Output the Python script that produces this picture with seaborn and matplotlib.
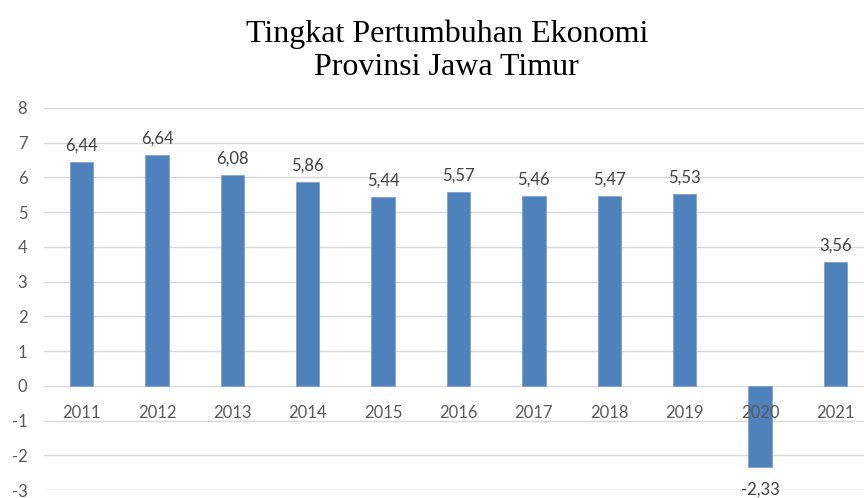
import matplotlib.pyplot as plt
import seaborn as sns

years = ["2011", "2012", "2013", "2014", "2015", "2016", "2017", "2018", "2019", "2020", "2021"]
growth = [6.44, 6.64, 6.08, 5.86, 5.44, 5.57, 5.46, 5.47, 5.53, -2.33, 3.56]
y_ticks = list(range(-3, 9))

sns.set_style("white")
plt.rcParams["font.family"] = ["Lato", "DejaVu Sans"]

fig = plt.figure(figsize=(8.64, 4.98), dpi=100)
ax = fig.add_axes([44 / 864, 8 / 498, 829 / 864, 382 / 498])

sns.barplot(x=years, y=growth, color="#4F81BD", saturation=1, width=0.31,
            edgecolor="#7FA3D0", linewidth=0.6, ax=ax, zorder=3)

ax.set_xlim(-0.5, 10.5)
ax.set_ylim(-3, 8)
ax.set_yticks(y_ticks)
ax.set_yticklabels([str(t) for t in y_ticks])
ax.yaxis.grid(True, color="#D9D9D9", linewidth=1)
ax.set_axisbelow(True)
# year labels are drawn on top of the negative bar
ax.xaxis.set_zorder(4)

for side in ["top", "right", "left"]:
    ax.spines[side].set_visible(False)
# category labels sit just below the zero line, like Excel
ax.spines["bottom"].set_position(("data", 0))
ax.spines["bottom"].set_visible(False)

ax.tick_params(axis="x", length=0, pad=14, labelsize=12, labelcolor="#595959")
ax.tick_params(axis="y", length=0, pad=12, labelsize=12, labelcolor="#595959")
ax.set_xlabel("")
ax.set_ylabel("")

labels = [f"{v:.2f}".replace(".", ",") for v in growth]
pos_labels = [s if v >= 0 else "" for s, v in zip(labels, growth)]
neg_labels = [s if v < 0 else "" for s, v in zip(labels, growth)]
ax.bar_label(ax.containers[0], labels=pos_labels, padding=6, fontsize=12, color="#404040")
ax.bar_label(ax.containers[0], labels=neg_labels, padding=11, fontsize=12, color="#404040")

fig.text(0.517, 0.931, "Tingkat Pertumbuhan Ekonomi", ha="center", va="center",
         fontsize=23, family="Liberation Serif", color="#000000")
fig.text(0.517, 0.864, "Provinsi Jawa Timur", ha="center", va="center",
         fontsize=23, family="Liberation Serif", color="#000000")

fig.savefig("out.png", dpi=100)
